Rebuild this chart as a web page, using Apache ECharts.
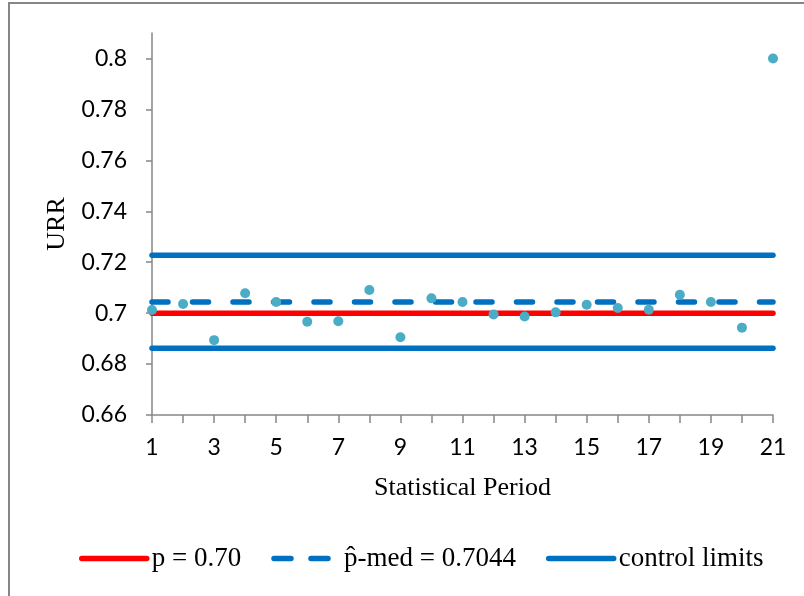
<!DOCTYPE html>
<html>
<head>
<meta charset="utf-8">
<script src="https://cdn.jsdelivr.net/npm/echarts@6/dist/echarts.min.js"></script>
<style>
  html, body { margin: 0; padding: 0; background: #fff; }
  #chart { width: 804px; height: 596px; }
</style>
</head>
<body>
<div id="chart"></div>
<script>
// Statistical periods and observed URR per period
const periods = [1, 2, 3, 4, 5, 6, 7, 8, 9, 10, 11, 12, 13, 14, 15, 16, 17, 18, 19, 20, 21];
const urrValues = [0.7012, 0.7036, 0.6894, 0.7078, 0.7044, 0.6966, 0.6968, 0.7091, 0.6905, 0.7058,
                   0.7044, 0.6995, 0.6987, 0.7003, 0.7033, 0.7020, 0.7013, 0.7072, 0.7044, 0.6943, 0.8000];

// Reference levels
const pTarget = 0.70;
const pMedian = 0.7044;
const upperLimit = 0.7227;
const lowerLimit = 0.6862;

// Axis ticks
const yTickValues = [0.66, 0.68, 0.70, 0.72, 0.74, 0.76, 0.78, 0.80];
const xLabelValues = [1, 3, 5, 7, 9, 11, 13, 15, 17, 19, 21];

const names = {
  target: 'p = 0.70',
  median: 'p\u0302-med = 0.7044',
  limits: 'control limits'
};

const first = periods[0];
const last = periods[periods.length - 1];
const flat = v => [[first, v], [last, v]];

const axisGray = '#868686';
const sansFont = 'Lato';
const serifFont = '"Liberation Serif", "DejaVu Serif", serif';

const chart = echarts.init(document.getElementById('chart'), null, { renderer: 'canvas' });

chart.setOption({
  animation: false,
  backgroundColor: '#fff',
  graphic: [
    { type: 'line', shape: { x1: 9, y1: 3, x2: 9, y2: 600 }, style: { stroke: axisGray, lineWidth: 2 } },
    { type: 'line', shape: { x1: 8, y1: 3, x2: 810, y2: 3 }, style: { stroke: axisGray, lineWidth: 2 } }
  ],
  grid: { left: 152, right: 31, top: 33, bottom: 181, containLabel: false },
  xAxis: {
    type: 'value',
    min: first,
    max: last,
    interval: 1,
    name: 'Statistical Period',
    nameLocation: 'middle',
    nameGap: 60,
    nameTextStyle: { fontFamily: serifFont, fontSize: 26, color: '#000' },
    axisLine: { lineStyle: { color: axisGray, width: 1.5 } },
    axisTick: { length: 8, lineStyle: { color: axisGray, width: 1.5 } },
    axisLabel: {
      margin: 21,
      fontFamily: sansFont,
      fontSize: 23,
      color: '#000',
      customValues: xLabelValues
    },
    splitLine: { show: false }
  },
  yAxis: {
    type: 'value',
    min: 0.66,
    max: 0.81,
    name: 'URR',
    nameLocation: 'middle',
    nameGap: 82,
    nameTextStyle: { fontFamily: serifFont, fontSize: 26, color: '#000' },
    axisLine: { show: true, lineStyle: { color: axisGray, width: 1.5 } },
    axisTick: { show: true, length: 6, lineStyle: { color: axisGray, width: 1.5 }, customValues: yTickValues },
    axisLabel: {
      margin: 25,
      fontFamily: sansFont,
      fontSize: 23,
      color: '#000',
      customValues: yTickValues,
      formatter: v => String(Math.round(v * 100) / 100)
    },
    splitLine: { show: false }
  },
  legend: {
    left: 79,
    top: 545,
    padding: 0,
    itemWidth: 65,
    itemHeight: 8,
    itemGap: 30,
    textStyle: { fontFamily: serifFont, fontSize: 27, color: '#000' },
    itemStyle: { opacity: 0 },
    lineStyle: { width: 5.5, cap: 'round' },
    data: [
      { name: names.target },
      { name: names.median, lineStyle: { type: [17, 20], width: 5.5, cap: 'round' } },
      { name: names.limits }
    ]
  },
  series: [
    {
      name: names.target,
      type: 'line',
      symbol: 'none',
      data: flat(pTarget),
      lineStyle: { color: '#FF0000', width: 5.5, cap: 'round' },
      itemStyle: { color: '#FF0000' },
      z: 2
    },
    {
      name: names.median,
      type: 'line',
      symbol: 'none',
      data: flat(pMedian),
      lineStyle: { color: '#0070C0', width: 5.5, cap: 'round', type: [16, 24.5] },
      itemStyle: { color: '#0070C0' },
      z: 2
    },
    {
      name: names.limits,
      type: 'line',
      symbol: 'none',
      data: flat(upperLimit),
      lineStyle: { color: '#0070C0', width: 5.5, cap: 'round' },
      itemStyle: { color: '#0070C0' },
      z: 2
    },
    {
      name: names.limits,
      type: 'line',
      symbol: 'none',
      data: flat(lowerLimit),
      lineStyle: { color: '#0070C0', width: 5.5, cap: 'round' },
      itemStyle: { color: '#0070C0' },
      z: 2
    },
    {
      name: 'URR',
      type: 'scatter',
      symbol: 'circle',
      symbolSize: 10,
      data: periods.map((p, i) => [p, urrValues[i]]),
      itemStyle: { color: '#4BACC6', opacity: 1 },
      z: 5
    }
  ]
});
</script>
</body>
</html>
